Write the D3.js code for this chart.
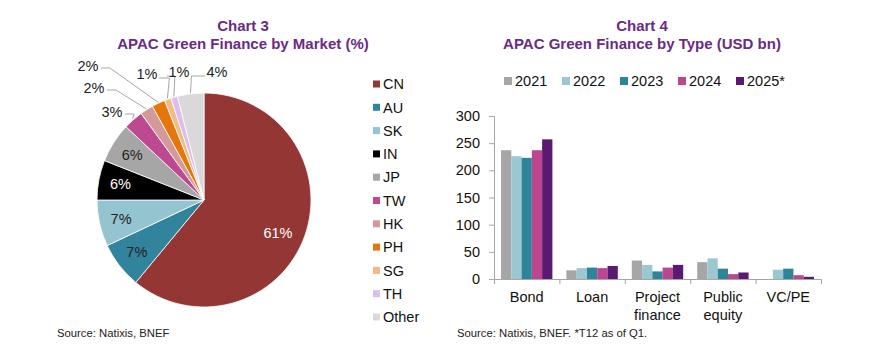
<!DOCTYPE html>
<html>
<head>
<meta charset="utf-8">
<script src="https://cdn.jsdelivr.net/npm/d3@7"></script>
<style>
  body { margin: 0; background: #fff; }
  svg { display: block; font-family: Arial, "Liberation Sans", sans-serif; }
</style>
</head>
<body>
<svg width="872" height="360"></svg>
<script>
// Chart 3 data: share by market (%)
const markets = ['CN', 'AU', 'SK', 'IN', 'JP', 'TW', 'HK', 'PH', 'SG', 'TH', 'Other']
const shares = [61, 7, 7, 6, 6, 3, 2, 2, 1, 1, 4]

// Chart 4 data: USD bn by type and year
const types = ['Bond', 'Loan', 'Project finance', 'Public equity', 'VC/PE']
const years = ['2021', '2022', '2023', '2024', '2025*']
const v2021 = [237, 16, 34, 31, 0]
const v2022 = [226, 20, 26, 38, 17]
const v2023 = [223, 21, 14, 19, 19]
const v2024 = [237, 20, 21, 9, 7]
const v2025 = [257, 24, 26, 12, 4]
const yTicks = [0, 50, 100, 150, 200, 250, 300]

const pieColors = ['#943634', '#31849b', '#93c4cf', '#000000', '#a6a6a6', '#bd4a90',
  '#d49a9b', '#e4760b', '#f1bb86', '#ddbdee', '#d9d9d9']
const yearColors = ['#a6a6a6', '#9bc7d1', '#2e8599', '#bd4690', '#5b1a72']
const titleColor = '#6a2a87'

const svg = d3.select('svg')

function title(cx, line1, line2) {
  const g = svg.append('g').attr('fill', titleColor).attr('font-weight', 'bold')
    .attr('font-size', 15).attr('text-anchor', 'middle')
  g.append('text').attr('x', cx).attr('y', 31).text(line1)
  g.append('text').attr('x', cx).attr('y', 49).text(line2)
}

// ---------- Chart 3: pie ----------
title(243, 'Chart 3', 'APAC Green Finance by Market (%)')

const pcx = 204, pcy = 200, r = 107
const pieData = markets.map((m, i) => ({ m: m, v: shares[i] }))
const arcs = d3.pie().value(d => d.v).sort(null)(pieData)
const arc = d3.arc().innerRadius(0).outerRadius(r)
const labelArc = d3.arc().innerRadius(85).outerRadius(85)

const pieG = svg.append('g').attr('transform', `translate(${pcx},${pcy})`)
pieG.selectAll('path').data(arcs).enter().append('path')
  .attr('d', arc)
  .attr('fill', (d, i) => pieColors[i])
  .attr('stroke', '#fff')
  .attr('stroke-width', 0.8)

// inner labels for the big slices
const whiteText = ['CN', 'IN']
pieG.selectAll('text.inner').data(arcs.filter(d => d.data.v >= 6)).enter().append('text')
  .attr('class', 'inner')
  .attr('transform', d => {
    const c = labelArc.centroid(d)
    // the big slice label sits a little lower in the original
    if (d.data.m === 'CN') { c[0] -= 6; c[1] += 4 }
    return `translate(${c[0]},${c[1]})`
  })
  .attr('text-anchor', 'middle')
  .attr('dy', '0.36em')
  .attr('font-size', 14.5)
  .attr('fill', d => whiteText.includes(d.data.m) ? '#fff' : '#222')
  .text(d => d.data.v + '%')

// outer labels with leader lines (label anchor relative to pie centre)
const outerPos = {
  TW: { x: -92, y: -88, side: 'left' },
  HK: { x: -110, y: -112, side: 'left' },
  PH: { x: -116, y: -134, side: 'left' },
  SG: { x: -57, y: -126, side: 'top-left' },
  TH: { x: -25, y: -128, side: 'top-right' },
  Other: { x: 13, y: -128, side: 'top-right' }
}
const edge = d3.arc().innerRadius(r + 1).outerRadius(r + 1)
arcs.filter(d => outerPos[d.data.m]).forEach(d => {
  const p = outerPos[d.data.m]
  const a = edge.centroid(d)
  let pts
  if (p.side === 'left') {
    pts = [[p.x + 13, p.y + 2], [p.x + 22, p.y + 2], a]
  } else if (p.side === 'top-left') {
    pts = [[p.x + 12, p.y + 4], [a[0] + 2, p.y + 4], a]
  } else {
    pts = [[p.x - 12, p.y + 4], [a[0] + 1, p.y + 4], a]
  }
  pieG.append('path')
    .attr('d', d3.line()(pts))
    .attr('fill', 'none')
    .attr('stroke', '#a6a6a6')
    .attr('stroke-width', 1)
  pieG.append('text')
    .attr('x', p.x).attr('y', p.y)
    .attr('text-anchor', 'middle')
    .attr('dy', '0.36em')
    .attr('font-size', 14.5)
    .attr('fill', '#222')
    .text(d.data.v + '%')
})

// legend
const pieLeg = svg.append('g').attr('transform', 'translate(373,84)')
markets.forEach((m, i) => {
  const g = pieLeg.append('g').attr('transform', `translate(0,${i * 23.3})`)
  g.append('rect').attr('x', 0).attr('y', -3.5).attr('width', 7).attr('height', 7).attr('fill', pieColors[i])
  g.append('text').attr('x', 10).attr('dy', '0.36em').attr('font-size', 14.5).attr('fill', '#111').text(m)
})

svg.append('text').attr('x', 57).attr('y', 337).attr('font-size', 11.3).attr('fill', '#222')
  .text('Source: Natixis, BNEF')

// ---------- Chart 4: grouped bars ----------
title(642, 'Chart 4', 'APAC Green Finance by Type (USD bn)')

const series = [v2021, v2022, v2023, v2024, v2025]

const barLeg = svg.append('g').attr('transform', 'translate(504,81)')
years.forEach((yr, i) => {
  const g = barLeg.append('g').attr('transform', `translate(${i * 58},0)`)
  g.append('rect').attr('x', 0).attr('y', -4).attr('width', 8).attr('height', 8).attr('fill', yearColors[i])
  g.append('text').attr('x', 11).attr('dy', '0.36em').attr('font-size', 14.5).attr('fill', '#111').text(yr)
})

const plotL = 494, plotR = 821, plotT = 116, plotB = 279
const x0 = d3.scaleBand().domain(types).range([plotL, plotR])
const x1 = d3.scaleBand().domain(years).range([7, x0.bandwidth() - 7])
const y = d3.scaleLinear().domain([0, 300]).range([plotB, plotT])

const barG = svg.append('g')
types.forEach((t, ti) => {
  barG.selectAll(null).data(years).enter().append('rect')
    .attr('x', yr => x0(t) + x1(yr))
    .attr('width', x1.bandwidth())
    .attr('y', (yr, i) => y(series[i][ti]))
    .attr('height', (yr, i) => plotB - y(series[i][ti]))
    .attr('fill', (yr, i) => yearColors[i])
})

// y axis
const yAxis = svg.append('g').attr('transform', `translate(${plotL},0)`)
  .call(d3.axisLeft(y).tickValues(yTicks).tickSize(5).tickPadding(9))
yAxis.select('.domain').attr('stroke', '#a6a6a6')
yAxis.selectAll('.tick line').attr('stroke', '#a6a6a6')
yAxis.selectAll('.tick text').attr('font-size', 14.5).attr('fill', '#111')
yAxis.attr('font-family', null)

// x axis line with ticks between categories
const axisC = '#a6a6a6'
svg.append('line').attr('x1', plotL).attr('x2', plotR).attr('y1', plotB + 0.5).attr('y2', plotB + 0.5)
  .attr('stroke', axisC)
svg.selectAll('line.xt').data(types.map(t => x0(t)).concat([plotR])).enter().append('line')
  .attr('class', 'xt')
  .attr('x1', d => d + 0.5).attr('x2', d => d + 0.5)
  .attr('y1', plotB).attr('y2', plotB + 5)
  .attr('stroke', axisC)

// category labels (wrapped on two words)
types.forEach(t => {
  const words = t.split(' ')
  const txt = svg.append('text')
    .attr('x', x0(t) + x0.bandwidth() / 2)
    .attr('y', 297)
    .attr('text-anchor', 'middle')
    .attr('font-size', 14.5)
    .attr('fill', '#111')
  words.forEach((w, i) => {
    txt.append('tspan').attr('x', x0(t) + x0.bandwidth() / 2).attr('dy', i === 0 ? '0.36em' : 18).text(w)
  })
})

svg.append('text').attr('x', 457).attr('y', 337).attr('font-size', 11.3).attr('fill', '#222')
  .text('Source: Natixis, BNEF. *T12 as of Q1.')
</script>
</body>
</html>
